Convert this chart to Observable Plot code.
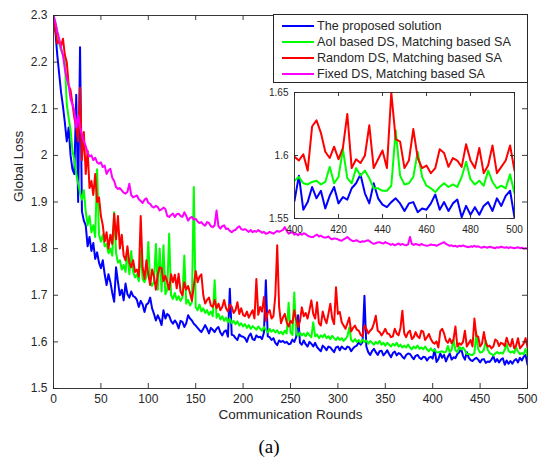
<!DOCTYPE html>
<html>
<head>
<meta charset="utf-8">
<script src="https://cdn.jsdelivr.net/npm/d3@7"></script>
<script src="https://cdn.jsdelivr.net/npm/@observablehq/plot@0.6"></script>
<style>
  html, body { margin: 0; padding: 0; background: #fff; }
  #wrap { position: relative; width: 541px; height: 464px; font-family: "Liberation Sans", Arial, Helvetica, sans-serif; color: #262626; }
  #wrap svg { position: absolute; }
  .legend { position: absolute; left: 273px; top: 14px; width: 255px; height: 69px; box-sizing: border-box; border: 1px solid #262626; background: #fff; }
  .legend .row { position: absolute; left: 0; height: 16px; width: 100%; }
  .legend .swatch { position: absolute; left: 8px; top: 7px; width: 32px; height: 2px; }
  .legend .label { position: absolute; left: 43px; top: 0; line-height: 16px; font-size: 12.6px; white-space: nowrap; }
  .caption { position: absolute; left: 0; width: 538px; top: 436px; text-align: center; font-family: "Liberation Serif", "Times New Roman", serif; font-size: 19px; color: #000; }
</style>
</head>
<body>
<div id="wrap"></div>
<script>
// ---- data ----
const rounds = d3.range(0, 501, 2); // communication rounds sampled every 2 rounds
const seriesNames = [
  "The proposed solution",
  "AoI based DS, Matching based SA",
  "Random DS, Matching based SA",
  "Fixed DS, Matching based SA"
];
const seriesColors = ["#0000ff", "#00ff00", "#ff0000", "#ff00ff"];

const blueLoss = [
  2.300, 2.265, 2.215, 2.175, 2.135, 2.105, 2.070, 2.030, 2.060, 2.000, 1.970, 1.960, 2.130, 1.900, 2.232, 1.880, 1.860, 1.850, 1.805, 1.825, 1.795, 1.812, 1.778, 1.792, 1.770,
  1.758, 1.775, 1.745, 1.722, 1.745, 1.728, 1.705, 1.686, 1.760, 1.728, 1.700, 1.712, 1.689, 1.725, 1.702, 1.695, 1.708, 1.698, 1.696, 1.690, 1.675, 1.688, 1.680, 1.664, 1.680,
  1.683, 1.695, 1.672, 1.660, 1.646, 1.657, 1.648, 1.636, 1.668, 1.650, 1.660, 1.656, 1.645, 1.639, 1.646, 1.640, 1.629, 1.645, 1.643, 1.632, 1.640, 1.657, 1.650, 1.646, 1.639,
  1.635, 1.630, 1.625, 1.621, 1.628, 1.636, 1.628, 1.618, 1.630, 1.626, 1.621, 1.628, 1.632, 1.620, 1.614, 1.622, 1.625, 1.611, 1.714, 1.615, 1.614, 1.608, 1.604, 1.616, 1.612,
  1.611, 1.608, 1.600, 1.612, 1.618, 1.606, 1.604, 1.614, 1.610, 1.611, 1.606, 1.620, 1.732, 1.612, 1.610, 1.604, 1.608, 1.598, 1.593, 1.603, 1.600, 1.602, 1.598, 1.600, 1.595,
  1.596, 1.605, 1.600, 1.610, 1.657, 1.598, 1.594, 1.603, 1.595, 1.590, 1.600, 1.596, 1.590, 1.598, 1.589, 1.584, 1.580, 1.592, 1.588, 1.582, 1.590, 1.588, 1.583, 1.578, 1.588,
  1.590, 1.582, 1.590, 1.586, 1.584, 1.590, 1.588, 1.580, 1.586, 1.590, 1.592, 1.599, 1.594, 1.600, 1.699, 1.590, 1.578, 1.572, 1.580, 1.585, 1.578, 1.572, 1.580, 1.581, 1.571,
  1.576, 1.582, 1.574, 1.567, 1.576, 1.579, 1.571, 1.576, 1.574, 1.568, 1.564, 1.572, 1.575, 1.574, 1.568, 1.563, 1.570, 1.572, 1.566, 1.563, 1.568, 1.567, 1.560, 1.566, 1.568,
  1.564, 1.584, 1.557, 1.563, 1.575, 1.566, 1.572, 1.558, 1.568, 1.575, 1.562, 1.567, 1.565, 1.574, 1.578, 1.585, 1.570, 1.562, 1.578, 1.566, 1.561, 1.559, 1.563, 1.566, 1.562,
  1.556, 1.562, 1.563, 1.555, 1.558, 1.557, 1.562, 1.569, 1.557, 1.563, 1.556, 1.562, 1.565, 1.551, 1.560, 1.553, 1.559, 1.553, 1.560, 1.563, 1.556, 1.566, 1.560, 1.568, 1.572,
  1.551
];

const greenLoss = [
  2.300, 2.285, 2.265, 2.240, 2.225, 2.215, 2.200, 2.110, 2.080, 2.055, 2.010, 1.990, 1.960, 1.940, 1.920, 1.905, 1.925, 1.880, 1.850, 1.870, 1.835, 1.850, 1.825, 1.970, 1.830,
  1.815, 1.830, 1.805, 1.810, 1.790, 1.800, 1.785, 1.878, 1.790, 1.770, 1.775, 1.755, 1.765, 1.750, 1.796, 1.745, 1.795, 1.750, 1.738, 1.745, 1.730, 1.796, 1.735, 1.728, 1.740,
  1.814, 1.728, 1.720, 1.730, 1.810, 1.712, 1.800, 1.708, 1.807, 1.702, 1.712, 1.832, 1.700, 1.692, 1.705, 1.690, 1.698, 1.688, 1.695, 1.785, 1.682, 1.690, 1.678, 1.685, 1.932,
  1.675, 1.668, 1.680, 1.665, 1.672, 1.662, 1.668, 1.658, 1.665, 1.655, 1.732, 1.652, 1.660, 1.648, 1.655, 1.645, 1.652, 1.642, 1.650, 1.640, 1.645, 1.638, 1.644, 1.635, 1.640,
  1.633, 1.638, 1.630, 1.636, 1.628, 1.634, 1.630, 1.626, 1.633, 1.628, 1.624, 1.632, 1.626, 1.620, 1.628, 1.622, 1.626, 1.620, 1.625, 1.618, 1.622, 1.616, 1.624, 1.618, 1.684,
  1.620, 1.615, 1.706, 1.618, 1.612, 1.620, 1.614, 1.618, 1.612, 1.620, 1.614, 1.610, 1.642, 1.612, 1.616, 1.608, 1.614, 1.610, 1.616, 1.608, 1.612, 1.606, 1.613, 1.608, 1.604,
  1.610, 1.604, 1.608, 1.602, 1.606, 1.612, 1.631, 1.604, 1.600, 1.606, 1.600, 1.604, 1.598, 1.605, 1.600, 1.603, 1.596, 1.602, 1.598, 1.594, 1.600, 1.596, 1.602, 1.594, 1.598,
  1.592, 1.598, 1.594, 1.590, 1.596, 1.592, 1.598, 1.590, 1.594, 1.588, 1.592, 1.588, 1.594, 1.588, 1.584, 1.590, 1.586, 1.592, 1.585, 1.588, 1.584, 1.590, 1.584, 1.580, 1.586,
  1.580, 1.583, 1.578, 1.577, 1.579, 1.580, 1.577, 1.579, 1.591, 1.578, 1.583, 1.605, 1.582, 1.578, 1.590, 1.584, 1.588, 1.582, 1.574, 1.574, 1.572, 1.572, 1.576, 1.620, 1.584,
  1.577, 1.578, 1.583, 1.603, 1.583, 1.576, 1.574, 1.571, 1.575, 1.578, 1.575, 1.577, 1.575, 1.583, 1.595, 1.581, 1.577, 1.580, 1.576, 1.588, 1.579, 1.574, 1.576, 1.574, 1.585,
  1.570
];

const redLoss = [
  2.300, 2.270, 2.240, 2.245, 2.235, 2.250, 2.215, 2.200, 2.150, 2.140, 2.110, 2.080, 2.060, 2.030, 2.145, 1.990, 2.050, 1.960, 2.010, 1.930, 1.945, 1.915, 1.960, 1.900, 1.910,
  1.870, 1.850, 1.815, 1.835, 1.800, 1.830, 1.810, 1.875, 1.820, 1.870, 1.800, 1.830, 1.785, 1.775, 1.805, 1.770, 1.760, 1.775, 1.750, 1.755, 1.740, 1.870, 1.760, 1.735, 1.775,
  1.745, 1.722, 1.755, 1.740, 1.712, 1.745, 1.760, 1.758, 1.730, 1.742, 1.728, 1.712, 1.745, 1.728, 1.744, 1.715, 1.746, 1.708, 1.700, 1.728, 1.712, 1.720, 1.705, 1.688, 1.720,
  1.752, 1.728, 1.740, 1.745, 1.700, 1.682, 1.690, 1.695, 1.678, 1.675, 1.690, 1.672, 1.682, 1.668, 1.675, 1.690, 1.672, 1.665, 1.680, 1.675, 1.662, 1.668, 1.685, 1.660, 1.672,
  1.658, 1.655, 1.665, 1.652, 1.660, 1.668, 1.650, 1.735, 1.658, 1.675, 1.665, 1.696, 1.645, 1.662, 1.668, 1.650, 1.655, 1.700, 1.807, 1.675, 1.640, 1.652, 1.660, 1.642, 1.633,
  1.645, 1.640, 1.668, 1.648, 1.632, 1.645, 1.674, 1.655, 1.662, 1.650, 1.668, 1.689, 1.660, 1.650, 1.685, 1.640, 1.635, 1.665, 1.650, 1.640, 1.660, 1.682, 1.650, 1.638, 1.717,
  1.660, 1.664, 1.642, 1.635, 1.628, 1.640, 1.652, 1.622, 1.630, 1.635, 1.626, 1.624, 1.615, 1.612, 1.635, 1.628, 1.618, 1.624, 1.628, 1.640, 1.656, 1.624, 1.621, 1.614, 1.620,
  1.628, 1.618, 1.617, 1.610, 1.612, 1.628, 1.618, 1.614, 1.630, 1.667, 1.618, 1.610, 1.620, 1.624, 1.606, 1.610, 1.621, 1.612, 1.608, 1.624, 1.622, 1.604, 1.610, 1.617, 1.606,
  1.599, 1.596, 1.601, 1.588, 1.623, 1.628, 1.618, 1.603, 1.598, 1.607, 1.597, 1.606, 1.633, 1.590, 1.597, 1.594, 1.600, 1.624, 1.590, 1.597, 1.604, 1.590, 1.650, 1.613, 1.611,
  1.590, 1.596, 1.621, 1.598, 1.590, 1.592, 1.586, 1.590, 1.605, 1.602, 1.591, 1.598, 1.596, 1.591, 1.609, 1.596, 1.590, 1.606, 1.586, 1.592, 1.608, 1.586, 1.591, 1.596, 1.608,
  1.588
];

const magentaLoss = [
  2.300, 2.285, 2.265, 2.250, 2.230, 2.215, 2.185, 2.165, 2.150, 2.120, 2.110, 2.095, 2.060, 2.085, 2.060, 2.045, 2.030, 2.020, 2.005, 1.998, 2.000, 1.990, 1.995, 1.985, 1.982,
  1.985, 1.975, 1.978, 1.960, 1.968, 1.971, 1.952, 1.945, 1.932, 1.928, 1.930, 1.925, 1.920, 1.918, 1.922, 1.939, 1.915, 1.910, 1.912, 1.914, 1.906, 1.902, 1.898, 1.905, 1.908,
  1.898, 1.896, 1.890, 1.888, 1.892, 1.889, 1.882, 1.884, 1.888, 1.885, 1.870, 1.868, 1.872, 1.875, 1.868, 1.874, 1.875, 1.870, 1.868, 1.878, 1.870, 1.860, 1.866, 1.868, 1.862,
  1.864, 1.858, 1.855, 1.857, 1.852, 1.849, 1.857, 1.855, 1.848, 1.846, 1.850, 1.882, 1.848, 1.843, 1.848, 1.850, 1.842, 1.843, 1.838, 1.835, 1.839, 1.840, 1.845, 1.848, 1.842,
  1.840, 1.842, 1.839, 1.836, 1.840, 1.835, 1.838, 1.836, 1.840, 1.837, 1.834, 1.836, 1.832, 1.833, 1.836, 1.834, 1.832, 1.835, 1.838, 1.836, 1.838, 1.840, 1.846, 1.838, 1.832,
  1.834, 1.836, 1.830, 1.832, 1.829, 1.832, 1.830, 1.833, 1.831, 1.828, 1.826, 1.825, 1.825, 1.828, 1.830, 1.826, 1.828, 1.825, 1.824, 1.824, 1.826, 1.822, 1.820, 1.822, 1.821,
  1.820, 1.818, 1.817, 1.820, 1.822, 1.825, 1.821, 1.818, 1.816, 1.817, 1.818, 1.815, 1.814, 1.816, 1.815, 1.817, 1.818, 1.815, 1.812, 1.810, 1.812, 1.813, 1.814, 1.812, 1.811,
  1.814, 1.812, 1.810, 1.808, 1.810, 1.807, 1.809, 1.811, 1.808, 1.810, 1.808, 1.807, 1.809, 1.825, 1.810, 1.808, 1.810, 1.809, 1.807, 1.810, 1.808, 1.807, 1.806, 1.807, 1.809,
  1.808, 1.808, 1.806, 1.808, 1.810, 1.812, 1.814, 1.810, 1.808, 1.806, 1.807, 1.805, 1.806, 1.804, 1.806, 1.805, 1.807, 1.805, 1.804, 1.803, 1.805, 1.804, 1.806, 1.804, 1.805,
  1.803, 1.802, 1.804, 1.803, 1.802, 1.804, 1.803, 1.802, 1.801, 1.803, 1.802, 1.804, 1.803, 1.802, 1.803, 1.801, 1.803, 1.802, 1.801, 1.802, 1.803, 1.801, 1.802, 1.800, 1.801,
  1.800
];

const xTicks = [0, 50, 100, 150, 200, 250, 300, 350, 400, 450, 500];
const yTicks = [1.5, 1.6, 1.7, 1.8, 1.9, 2.0, 2.1, 2.2, 2.3];
const yTickLabels = ["1.5", "1.6", "1.7", "1.8", "1.9", "2", "2.1", "2.2", "2.3"];
const insetXTicks = [400, 420, 440, 460, 480, 500];
const insetYTicks = [1.55, 1.6, 1.65];
const insetYTickLabels = ["1.55", "1.6", "1.65"];
const xLabel = "Communication Rounds";
const yLabel = "Global Loss";
const captionText = "(a)";

// ---- build table ----
const lossBySeries = [blueLoss, greenLoss, redLoss, magentaLoss];
lossBySeries.forEach((a, i) => { if (a.length !== rounds.length) console.error("length mismatch", i, a.length); });
const table = seriesNames.flatMap((name, s) =>
  lossBySeries[s].map((loss, i) => ({series: name, round: rounds[i], loss}))
);

const ink = "#262626";
const font = "'Liberation Sans', Arial, Helvetica, sans-serif";
const yLabelOf = (d) => yTickLabels[yTicks.findIndex(t => Math.abs(t - d) < 1e-9)];
const insetYLabelOf = (d) => insetYTickLabels[insetYTicks.findIndex(t => Math.abs(t - d) < 1e-9)];

// ---- main chart ----
const W = 541, H = 430, ML = 53, MR = 14, MT = 15, MB = 42;
const FW = W - ML - MR, FH = H - MT - MB, TK = 5;
const main = Plot.plot({
  width: W, height: H,
  marginLeft: ML, marginRight: MR, marginTop: MT, marginBottom: MB,
  style: {fontFamily: font, fontSize: "12px", color: ink, background: "white", overflow: "visible"},
  x: {domain: [0, 500]},
  y: {domain: [1.5, 2.3]},
  color: {domain: seriesNames, range: seriesColors},
  marks: [
    Plot.line(table, {x: "round", y: "loss", z: "series", stroke: "series", strokeWidth: 2, clip: true}),
    Plot.frame({stroke: ink, strokeWidth: 0.9}),
    Plot.tickX(xTicks, {x: d => d, insetTop: FH - TK, stroke: ink, strokeWidth: 0.9}),
    Plot.tickX(xTicks, {x: d => d, insetBottom: FH - TK, stroke: ink, strokeWidth: 0.9}),
    Plot.tickY(yTicks, {y: d => d, insetRight: FW - TK, stroke: ink, strokeWidth: 0.9}),
    Plot.tickY(yTicks, {y: d => d, insetLeft: FW - TK, stroke: ink, strokeWidth: 0.9}),
    Plot.axisX({ticks: xTicks, tickSize: 0, tickPadding: 6, label: null, fontSize: 12}),
    Plot.axisY({ticks: yTicks, tickSize: 0, tickPadding: 6, label: null, tickFormat: yLabelOf, fontSize: 12}),
    Plot.text([xLabel], {text: d => d, frameAnchor: "bottom", dy: 30, fontSize: 13.5, fill: ink}),
    Plot.text([yLabel], {text: d => d, frameAnchor: "left", dx: -35, rotate: -90, fontSize: 13.5, fill: ink})
  ]
});
main.style.left = "0px";
main.style.top = "0px";

// ---- inset ----
const IW = 255, IH = 147, IML = 30, IMR = 5, IMT = 5, IMB = 16;
const IFW = IW - IML - IMR, IFH = IH - IMT - IMB, ITK = 4;
const insetTable = table.filter(d => d.round >= 400 && d.series !== seriesNames[3]);
const inset = Plot.plot({
  width: IW, height: IH,
  marginLeft: IML, marginRight: IMR, marginTop: IMT, marginBottom: IMB,
  style: {fontFamily: font, fontSize: "10px", color: ink, background: "transparent", overflow: "visible"},
  x: {domain: [400, 500]},
  y: {domain: [1.55, 1.65]},
  color: {domain: seriesNames, range: seriesColors},
  marks: [
    Plot.frame({fill: "white"}),
    Plot.line(insetTable, {x: "round", y: "loss", z: "series", stroke: "series", strokeWidth: 2, clip: true}),
    Plot.frame({stroke: ink, strokeWidth: 0.9}),
    Plot.tickX(insetXTicks, {x: d => d, insetTop: IFH - ITK, stroke: ink, strokeWidth: 0.9}),
    Plot.tickX(insetXTicks, {x: d => d, insetBottom: IFH - ITK, stroke: ink, strokeWidth: 0.9}),
    Plot.tickY(insetYTicks, {y: d => d, insetRight: IFW - ITK, stroke: ink, strokeWidth: 0.9}),
    Plot.tickY(insetYTicks, {y: d => d, insetLeft: IFW - ITK, stroke: ink, strokeWidth: 0.9}),
    Plot.axisX({ticks: insetXTicks, tickSize: 0, tickPadding: 7, label: null, fontSize: 10}),
    Plot.axisY({ticks: insetYTicks, tickSize: 0, tickPadding: 6, label: null, tickFormat: insetYLabelOf, fontSize: 10})
  ]
});
inset.style.left = (294 - IML) + "px";
inset.style.top = (92 - IMT) + "px";

const wrap = document.getElementById("wrap");
wrap.appendChild(main);
wrap.appendChild(inset);

// ---- legend ----
const legend = document.createElement("div");
legend.className = "legend";
seriesNames.forEach((name, i) => {
  const row = document.createElement("div");
  row.className = "row";
  row.style.top = (3 + 16.1 * i) + "px";
  const sw = document.createElement("div");
  sw.className = "swatch";
  sw.style.background = seriesColors[i];
  const lab = document.createElement("div");
  lab.className = "label";
  lab.textContent = name;
  row.appendChild(sw);
  row.appendChild(lab);
  legend.appendChild(row);
});
wrap.appendChild(legend);

// ---- caption ----
const cap = document.createElement("div");
cap.className = "caption";
cap.textContent = captionText;
wrap.appendChild(cap);
</script>
</body>
</html>
